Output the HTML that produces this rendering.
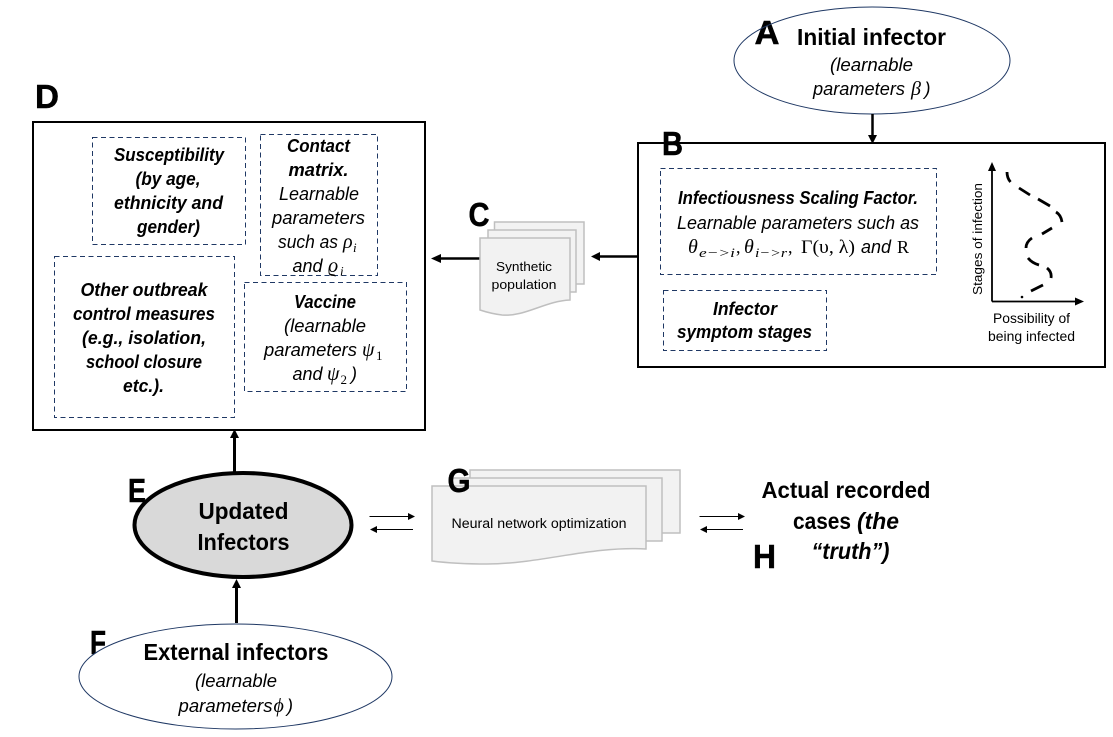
<!DOCTYPE html>
<html><head><meta charset="utf-8"><style>
html,body{margin:0;padding:0;background:#fff;width:1113px;height:737px;overflow:hidden}
svg{display:block}
text{font-family:"Liberation Sans",sans-serif;fill:#000;text-anchor:middle}
.s{text-anchor:start}
.b{font-weight:700}
.i{font-style:italic}
.m{font-family:"Liberation Serif",serif;font-style:italic;text-anchor:start;font-size:20px}
.r{font-family:"Liberation Serif",serif;text-anchor:start}
.L{font-weight:700;font-size:33px;stroke:#000;stroke-width:.5px}
.d{fill:none;stroke:#1f3864;stroke-width:1;stroke-dasharray:5 3.5}
.p{fill:#f2f2f2;stroke:#bfbfbf;stroke-width:1.5}
</style></head><body>
<svg width="1113" height="737" viewBox="0 0 1113 737" xmlns="http://www.w3.org/2000/svg">
<rect x="33" y="122" width="392" height="308" fill="#fff" stroke="#000" stroke-width="2"/>
<rect x="638" y="143" width="467" height="224" fill="#fff" stroke="#000" stroke-width="2"/>

<text class="L" x="767" y="44" textLength="25" lengthAdjust="spacingAndGlyphs">A</text>
<text class="L" x="672.500" y="155" textLength="21" lengthAdjust="spacingAndGlyphs">B</text>
<text class="L" x="479" y="226" textLength="21" lengthAdjust="spacingAndGlyphs">C</text>
<text class="L" x="47" y="108" textLength="24" lengthAdjust="spacingAndGlyphs">D</text>
<text class="L" x="137" y="502" textLength="18" lengthAdjust="spacingAndGlyphs">E</text>
<text class="L" x="98" y="654" textLength="16" lengthAdjust="spacingAndGlyphs">F</text>
<text class="L" x="764.500" y="568" textLength="23" lengthAdjust="spacingAndGlyphs">H</text>

<!-- ellipses -->
<ellipse cx="872" cy="60.500" rx="138" ry="53.500" fill="none" stroke="#1f3864" stroke-width="1"/>
<ellipse cx="235.500" cy="676.500" rx="156.500" ry="52.500" fill="#fff" stroke="#1f3864" stroke-width="1"/>
<ellipse cx="243" cy="525" rx="108.500" ry="52" fill="#d9d9d9" stroke="#000" stroke-width="4"/>

<!-- arrows -->
<g stroke="#000" fill="none">
<path d="M872.500 114V137" stroke-width="2.500"/>
<path d="M234.500 472V437" stroke-width="3"/>
<path d="M236.500 623V587" stroke-width="3"/>
<path d="M638 256.500H600" stroke-width="2.500"/>
<path d="M480 258.500H441" stroke-width="2.500"/>
<path d="M369.500 516.500H408M413 529.500H376M699.500 516.500H738M743 529.500H706" stroke-width="1"/>
</g>
<g fill="#000">
<path d="M872.500 144l-4.500-9h9z"/>
<path d="M234.500 429l-4.500 9h9z"/>
<path d="M236.500 579l-4.500 9h9z"/>
<path d="M591 256.500l9-4.500v9z"/>
<path d="M431 258.500l10-4.500v9z"/>
<path d="M415 516.500l-7-3.500v7z"/>
<path d="M370 529.500l7-3.500v7z"/>
<path d="M745 516.500l-7-3.500v7z"/>
<path d="M700 529.500l7-3.500v7z"/>
</g>

<!-- dashed boxes -->
<rect class="d" x="92.500" y="137.500" width="153" height="107"/>
<rect class="d" x="260.500" y="134.500" width="117" height="141"/>
<rect class="d" x="54.500" y="256.500" width="180" height="161"/>
<rect class="d" x="244.500" y="282.500" width="162" height="109"/>
<rect class="d" x="660.500" y="168.500" width="276" height="106"/>
<rect class="d" x="663.500" y="290.500" width="163" height="60"/>

<!-- doc stack C -->
<path class="p" d="M494.500 222H584V284H570V240H494.500z"/>
<path class="p" d="M488 230H576V292H565V240H488z"/>
<path class="p" d="M480 238H570V300C545 301 525 317 502 315C494 314 486 312 480 310z"/>
<!-- doc stack G -->
<path class="p" d="M470 470H680V533H660V480H470z"/>
<path class="p" d="M451 478H662V541H640V490H451z"/>
<path class="p" d="M432 486H646V549C590 546 540 564 487 564C465 564 448 563 432 561z"/>
<text class="L" x="459" y="492" textLength="23" lengthAdjust="spacingAndGlyphs">G</text>

<!-- chart -->
<g stroke="#000" fill="none">
<path d="M992 301.500V170M992 301.500H1076" stroke-width="1.800"/>
<path d="M1007 172Q1007 178 1010.500 182M1019 188L1030 195M1038 199L1050 206M1056 212Q1061 215 1062 222M1052 228L1042 234M1032 238Q1026 242 1026 248M1028 258Q1032 263 1039 265M1047 268Q1052 272 1051 278M1043 285L1031 291" stroke-width="2.800"/>
</g>
<path d="M992 162l-4 9h8z M1084 301.500l-9-4v8z" fill="#000"/>
<circle cx="1022" cy="297" r="1.300" fill="#000"/>

<!-- A / B text -->
<text class="b" x="871.500" y="45" font-size="23" textLength="149" lengthAdjust="spacingAndGlyphs">Initial infector</text>
<text class="i" x="871.500" y="71" font-size="18" textLength="83" lengthAdjust="spacingAndGlyphs">(learnable</text>
<text class="i" x="859" y="95" font-size="18" textLength="92" lengthAdjust="spacingAndGlyphs">parameters</text>
<text class="m" x="911" y="95">β</text>
<text class="i s" x="924.500" y="95" font-size="18">)</text>
<text class="b i" x="798" y="204" font-size="18" textLength="240" lengthAdjust="spacingAndGlyphs">Infectiousness Scaling Factor.</text>
<text class="i" x="798" y="229" font-size="18" textLength="242" lengthAdjust="spacingAndGlyphs">Learnable parameters such as</text>
<text class="m" x="688" y="253">θ</text>
<text class="m" x="699" y="257" style="font-size:13px" textLength="36" lengthAdjust="spacingAndGlyphs">e−&gt;i</text>
<text class="r" x="736" y="253" font-size="18">,</text>
<text class="m" x="744" y="253">θ</text>
<text class="m" x="755" y="257" style="font-size:13px" textLength="32" lengthAdjust="spacingAndGlyphs">i−&gt;r</text>
<text class="r" x="788" y="253" font-size="18">,</text>
<text class="r" x="801" y="253" font-size="19" textLength="54" lengthAdjust="spacingAndGlyphs">Γ(υ, λ)</text>
<text class="i s" x="861" y="253" font-size="18" textLength="30" lengthAdjust="spacingAndGlyphs">and</text>
<text class="r" x="897" y="253" font-size="18">R</text>
<text class="b i" x="745" y="315" font-size="18" textLength="64" lengthAdjust="spacingAndGlyphs">Infector</text>
<text class="b i" x="744.500" y="338" font-size="18" textLength="135" lengthAdjust="spacingAndGlyphs">symptom stages</text>
<text transform="translate(982 239) rotate(-90)" font-size="13" textLength="112" lengthAdjust="spacingAndGlyphs">Stages of infection</text>
<text x="1031.500" y="323" font-size="13.500" textLength="77" lengthAdjust="spacingAndGlyphs">Possibility of</text>
<text x="1031.500" y="341" font-size="13.500" textLength="87" lengthAdjust="spacingAndGlyphs">being infected</text>

<!-- D text -->
<g font-size="18">
<text class="b i" x="169" y="161" textLength="110" lengthAdjust="spacingAndGlyphs">Susceptibility</text>
<text class="b i" x="168" y="185" textLength="65" lengthAdjust="spacingAndGlyphs">(by age,</text>
<text class="b i" x="168.500" y="209" textLength="109" lengthAdjust="spacingAndGlyphs">ethnicity and</text>
<text class="b i" x="168.500" y="233" textLength="63" lengthAdjust="spacingAndGlyphs">gender)</text>
<text class="b i" x="318.500" y="152" textLength="63" lengthAdjust="spacingAndGlyphs">Contact</text>
<text class="b i" x="318.500" y="176" textLength="60" lengthAdjust="spacingAndGlyphs">matrix.</text>
<text class="i" x="319" y="200" textLength="80" lengthAdjust="spacingAndGlyphs">Learnable</text>
<text class="i" x="318.500" y="224" textLength="93" lengthAdjust="spacingAndGlyphs">parameters</text>
<text class="i s" x="278" y="248" textLength="60" lengthAdjust="spacingAndGlyphs">such as</text>
<text class="m" x="343" y="248">ρ</text>
<text class="m" x="353" y="252" style="font-size:13px">i</text>
<text class="i s" x="292.500" y="272" textLength="30" lengthAdjust="spacingAndGlyphs">and</text>
<text class="m" x="328" y="272">ϱ</text>
<text class="m" x="340" y="275.500" style="font-size:13px">i</text>
<text class="b i" x="144" y="296" textLength="127" lengthAdjust="spacingAndGlyphs">Other outbreak</text>
<text class="b i" x="144" y="320" textLength="142" lengthAdjust="spacingAndGlyphs">control measures</text>
<text class="b i" x="144" y="344" textLength="124" lengthAdjust="spacingAndGlyphs">(e.g., isolation,</text>
<text class="b i" x="144" y="368" textLength="116" lengthAdjust="spacingAndGlyphs">school closure</text>
<text class="b i" x="143.500" y="392" textLength="41" lengthAdjust="spacingAndGlyphs">etc.).</text>
<text class="b i" x="325" y="308" textLength="62" lengthAdjust="spacingAndGlyphs">Vaccine</text>
<text class="i" x="325" y="332" textLength="82" lengthAdjust="spacingAndGlyphs">(learnable</text>
<text class="i s" x="264" y="356" textLength="93" lengthAdjust="spacingAndGlyphs">parameters</text>
<text class="m" x="362" y="356">ψ</text>
<text class="r" x="376" y="360" font-size="13">1</text>
<text class="i s" x="292.500" y="380" textLength="30" lengthAdjust="spacingAndGlyphs">and</text>
<text class="m" x="327" y="380">ψ</text>
<text class="r" x="340.500" y="384" font-size="13">2</text>
<text class="i s" x="351" y="380">)</text>
</g>

<!-- C text -->
<text x="524" y="271" font-size="13" textLength="56" lengthAdjust="spacingAndGlyphs">Synthetic</text>
<text x="524" y="289" font-size="13" textLength="65" lengthAdjust="spacingAndGlyphs">population</text>

<!-- lower text -->
<text class="b" x="243.500" y="519" font-size="23" textLength="90" lengthAdjust="spacingAndGlyphs">Updated</text>
<text class="b" x="243.500" y="550" font-size="23" textLength="92" lengthAdjust="spacingAndGlyphs">Infectors</text>
<text class="b" x="236" y="660" font-size="23" textLength="185" lengthAdjust="spacingAndGlyphs">External infectors</text>
<text class="i" x="236" y="687" font-size="18" textLength="82" lengthAdjust="spacingAndGlyphs">(learnable</text>
<text class="i s" x="178.500" y="712" font-size="18" textLength="94" lengthAdjust="spacingAndGlyphs">parameters</text>
<text class="m" x="273.500" y="712">ϕ</text>
<text class="i s" x="287" y="712" font-size="18">)</text>
<text x="539" y="528" font-size="13.500" textLength="175" lengthAdjust="spacingAndGlyphs">Neural network optimization</text>
<text class="b" x="846" y="498" font-size="23" textLength="169" lengthAdjust="spacingAndGlyphs">Actual recorded</text>
<text class="b s" x="793" y="529" font-size="23" textLength="58" lengthAdjust="spacingAndGlyphs">cases</text>
<text class="b i s" x="857" y="529" font-size="23" textLength="42" lengthAdjust="spacingAndGlyphs">(the</text>
<text class="b i" x="850.500" y="559" font-size="23" textLength="78" lengthAdjust="spacingAndGlyphs">“truth”)</text>
</svg>
</body></html>
